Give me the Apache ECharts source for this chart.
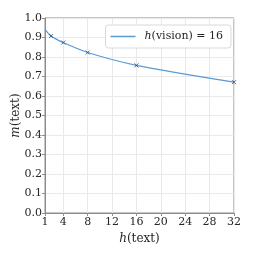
<!DOCTYPE html>
<html><head><meta charset="utf-8">
<script src="https://cdn.jsdelivr.net/npm/echarts@6/dist/echarts.min.js"></script>
<style>html,body{margin:0;padding:0;background:#fff}#c{width:254px;height:254px}</style>
</head><body><div id="c"></div>
<script>
const xValues = [1, 2, 4, 8, 16, 32];
const mText = [0.942, 0.908, 0.874, 0.823, 0.757, 0.671];
const markerX = [2, 4, 8, 16, 32];
const markerY = [0.908, 0.874, 0.823, 0.757, 0.671];
const xTicks = [1, 4, 8, 12, 16, 20, 24, 28, 32];
const seriesName = 'h(vision) = 16';

const font = 'DejaVu Serif';
const txt = '#262626';
const chart = echarts.init(document.getElementById('c'));
chart.setOption({
  animation: false,
  textStyle: {fontFamily: font},
  grid: {left: 45, right: 20, top: 18, bottom: 41, show: true, borderColor: '#8c8c8c', borderWidth: 1},
  legend: {
    right: 23, top: 25, itemWidth: 25, itemHeight: 1.5, itemGap: 4,
    padding: [6, 8, 6, 5],
    borderColor: '#d9d9d9', borderWidth: 1, borderRadius: 3, backgroundColor: '#fff',
    data: [{name: seriesName, icon: 'rect'}],
    formatter: () => '{i|h}(vision) = 16',
    textStyle: {fontFamily: font, fontSize: 11, color: txt, padding: [0, 0, 0, 4],
      rich: {i: {fontFamily: font, fontStyle: 'italic', fontSize: 11, color: txt}}}
  },
  xAxis: {
    type: 'value', min: 1, max: 32,
    name: '{i|h}(text)', nameLocation: 'middle', nameGap: 17,
    nameTextStyle: {fontFamily: font, fontSize: 12, color: txt,
      rich: {i: {fontFamily: font, fontStyle: 'italic', fontSize: 12, color: txt}}},
    axisLine: {show: true, lineStyle: {color: '#8c8c8c'}},
    axisTick: {show: true, length: 3, customValues: xTicks, lineStyle: {color: '#8c8c8c'}},
    axisLabel: {customValues: xTicks, fontFamily: font, fontSize: 11, color: txt, margin: 4},
    splitLine: {show: true, lineStyle: {color: '#e9e9e9', width: 1}}
  },
  yAxis: {
    type: 'value', min: 0, max: 1, interval: 0.1,
    name: '{i|m}(text)', nameLocation: 'middle', nameGap: 23, nameMoveOverlap: false,
    nameTextStyle: {fontFamily: font, fontSize: 12, color: txt,
      rich: {i: {fontFamily: font, fontStyle: 'italic', fontSize: 12, color: txt}}},
    axisLine: {show: true, lineStyle: {color: '#8c8c8c'}},
    axisTick: {show: true, length: 3, lineStyle: {color: '#8c8c8c'}},
    axisLabel: {fontFamily: font, fontSize: 11, color: txt, margin: 3, formatter: v => v.toFixed(1)},
    splitLine: {show: true, lineStyle: {color: '#e9e9e9', width: 1}}
  },
  series: [
    {name: seriesName, type: 'line', data: xValues.map((x, i) => [x, mText[i]]),
     showSymbol: false, symbol: 'none', smooth: 0.3,
     lineStyle: {color: '#5a9bd4', width: 1.2}, itemStyle: {color: '#5a9bd4'}},
    {name: 'markers', type: 'scatter', data: markerX.map((x, i) => [x, markerY[i]]),
     symbol: 'path://M0,0L10,10M10,0L0,10', symbolSize: 4,
     itemStyle: {color: 'none', borderColor: '#2b4a66', borderWidth: 1}, z: 3}
  ]
});
</script></body></html>
